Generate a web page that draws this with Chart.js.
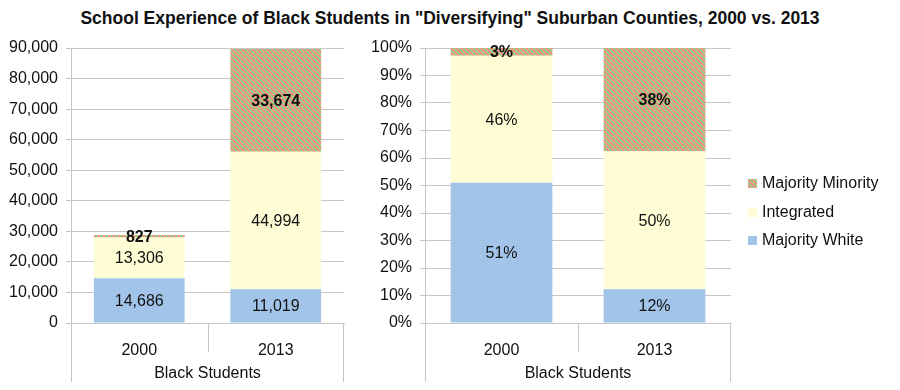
<!DOCTYPE html>
<html>
<head>
<meta charset="utf-8">
<script src="https://cdn.jsdelivr.net/npm/chart.js@4.4.1/dist/chart.umd.min.js"></script>
<style>
  body { margin: 0; background: #fff; width: 900px; height: 390px; overflow: hidden; position: relative; }
  #title { position: absolute; left: 0; top: 8px; width: 900px; text-align: center;
    font: bold 17.5px "Liberation Sans", Arial, sans-serif; color: #111; }
  #c1 { position: absolute; left: 0; top: 0; }
  #c2 { position: absolute; left: 360px; top: 0; }
</style>
</head>
<body>
<div id="title">School Experience of Black Students in "Diversifying" Suburban Counties, 2000 vs. 2013</div>
<canvas id="c1" width="360" height="390"></canvas>
<canvas id="c2" width="540" height="390"></canvas>
<script>
const years = ["2000", "2013"];
const groupLabel = "Black Students";
const seriesNames = ["Majority White", "Integrated", "Majority Minority"];

// student counts
const majorityWhite = [14686, 11019];
const integrated = [13306, 44994];
const majorityMinority = [827, 33674];

// share of students, percent
const majorityWhitePct = [51.0, 12.3];
const integratedPct = [46.2, 50.2];
const majorityMinorityPct = [2.8, 37.5];

const countTicks = [0, 10000, 20000, 30000, 40000, 50000, 60000, 70000, 80000, 90000];
const pctTicks = [0, 10, 20, 30, 40, 50, 60, 70, 80, 90, 100];

const FONT = '"Liberation Sans", Arial, sans-serif';
const BLUE = "#a2c4e9";
const YELLOW = "#fefdd5";
const GRID = "#c6c6c6";

function stripes() {
  const c = document.createElement("canvas");
  c.width = 5; c.height = 5;
  const g = c.getContext("2d");
  const img = g.createImageData(5, 5);
  for (let y = 0; y < 5; y++) {
    for (let x = 0; x < 5; x++) {
      const green = ((x - y + 10) % 5) < 2;
      const i = (y * 5 + x) * 4;
      img.data[i] = green ? 140 : 240;
      img.data[i + 1] = green ? 218 : 146;
      img.data[i + 2] = green ? 124 : 138;
      img.data[i + 3] = 255;
    }
  }
  g.putImageData(img, 0, 0);
  return g.createPattern(c, "repeat");
}
const minorityFill = stripes();

function makeDatasets(a, b, c) {
  return [
    { label: seriesNames[0], data: a, backgroundColor: BLUE },
    { label: seriesNames[1], data: b, backgroundColor: YELLOW },
    { label: seriesNames[2], data: c, backgroundColor: minorityFill },
  ];
}

// values written in the middle of each segment
const valueLabels = {
  id: "valueLabels",
  afterDatasetsDraw(chart, args, opts) {
    const ctx = chart.ctx;
    ctx.save();
    ctx.textAlign = "center";
    ctx.textBaseline = "middle";
    ctx.fillStyle = "#111";
    chart.data.datasets.forEach((ds, di) => {
      const meta = chart.getDatasetMeta(di);
      ctx.font = (di === 2 ? "bold " : "") + "16px " + FONT;
      meta.data.forEach((bar, i) => {
        const p = bar.getProps(["x", "y", "base"], true);
        ctx.fillText(opts.format(ds.data[i]), p.x, (p.y + p.base) / 2 + 1);
      });
    });
    ctx.restore();
  }
};

// category frame below the x axis
const categoryFrame = {
  id: "categoryFrame",
  afterDraw(chart) {
    const ctx = chart.ctx;
    const a = chart.chartArea;
    const x = chart.scales.x;
    const mid = Math.round((x.getPixelForValue(0) + x.getPixelForValue(1)) / 2) + 0.5;
    ctx.save();
    ctx.strokeStyle = GRID;
    ctx.lineWidth = 1;
    ctx.beginPath();
    ctx.moveTo(Math.round(a.left) + 0.5, a.bottom);
    ctx.lineTo(Math.round(a.left) + 0.5, a.bottom + 59);
    ctx.moveTo(Math.round(a.right) - 0.5, a.bottom);
    ctx.lineTo(Math.round(a.right) - 0.5, a.bottom + 59);
    ctx.moveTo(mid, a.bottom);
    ctx.lineTo(mid, a.bottom + 29);
    ctx.stroke();
    ctx.fillStyle = "#111";
    ctx.font = "16px " + FONT;
    ctx.textAlign = "center";
    ctx.textBaseline = "middle";
    ctx.fillText(groupLabel, (a.left + a.right) / 2, a.bottom + 51);
    ctx.restore();
  }
};

// legend on the right of the second chart, top entry first
const sideLegend = {
  id: "sideLegend",
  afterDraw(chart) {
    const ctx = chart.ctx;
    const left = chart.chartArea.right + 17;
    const rows = [184, 213, 241];
    ctx.save();
    ctx.font = "16px " + FONT;
    ctx.textBaseline = "middle";
    chart.data.datasets.slice().reverse().forEach((ds, i) => {
      ctx.fillStyle = ds.backgroundColor;
      ctx.fillRect(left, rows[i] - 5, 9, 9);
      ctx.fillStyle = "#111";
      ctx.fillText(ds.label, left + 14, rows[i]);
    });
    ctx.restore();
  }
};

function options(max, step, fmt, yWidth, padRight) {
  return {
    responsive: false,
    animation: false,
    layout: { padding: { top: 48, right: padRight, left: 0, bottom: 0 } },
    datasets: { bar: { categoryPercentage: 1, barPercentage: 0.665, borderWidth: 0 } },
    plugins: {
      legend: { display: false },
      tooltip: { enabled: false },
      valueLabels: { format: fmt },
    },
    scales: {
      x: {
        stacked: true,
        grid: { display: false },
        border: { color: GRID },
        ticks: { color: "#111", font: { family: FONT, size: 16 }, padding: 10 },
        afterFit(s) { s.height = 67; },
      },
      y: {
        stacked: true,
        min: 0, max: max,
        grid: { color: GRID, tickLength: 5 },
        border: { color: GRID },
        ticks: { stepSize: step, color: "#111", font: { family: FONT, size: 16 }, padding: 8, callback: fmt },
        afterFit(s) { s.width = yWidth; },
      },
    },
  };
}

const countFmt = v => Math.round(v).toLocaleString("en-US");
const pctFmt = v => Math.round(v) + "%";

new Chart(document.getElementById("c1"), {
  type: "bar",
  data: { labels: years, datasets: makeDatasets(majorityWhite, integrated, majorityMinority) },
  options: options(countTicks[countTicks.length - 1], countTicks[1] - countTicks[0], countFmt, 71, 16),
  plugins: [valueLabels, categoryFrame],
});

new Chart(document.getElementById("c2"), {
  type: "bar",
  data: { labels: years, datasets: makeDatasets(majorityWhitePct, integratedPct, majorityMinorityPct) },
  options: options(pctTicks[pctTicks.length - 1], pctTicks[1] - pctTicks[0], pctFmt, 65, 169),
  plugins: [valueLabels, categoryFrame, sideLegend],
});
</script>
</body>
</html>
